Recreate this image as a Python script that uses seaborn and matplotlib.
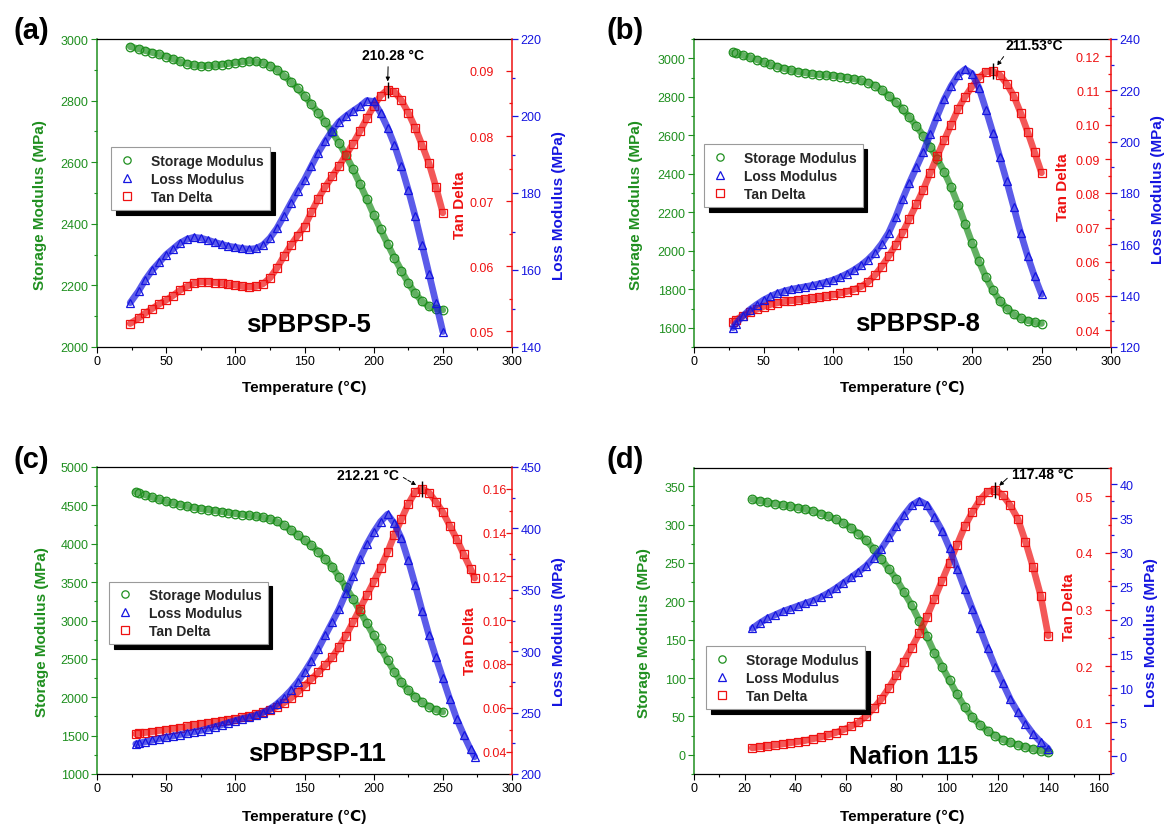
import matplotlib
matplotlib.use("Agg")
import numpy as np
import matplotlib.pyplot as plt
import seaborn as sns
from matplotlib.ticker import AutoMinorLocator

sns.set_style("ticks")
plt.rcParams['font.family'] = ['Liberation Sans', 'DejaVu Sans']

GREEN = '#1f8f1f'
RED = '#ee1111'
BLUE = '#1515e0'

# ---------------- data: (a) sPBPSP-5 ----------------
T_A = [24, 30, 35, 40, 45, 50, 55, 60, 65, 70, 75, 80, 85, 90, 95, 100, 105, 110, 115, 120,
       125, 130, 135, 140, 145, 150, 155, 160, 165, 170, 175, 180, 185, 190, 195, 200, 205,
       210, 215, 220, 225, 230, 235, 240, 245, 250]
SM_A = [2975, 2968, 2962, 2956, 2950, 2943, 2935, 2927, 2920, 2915, 2913, 2913, 2914, 2917,
        2920, 2923, 2926, 2928, 2927, 2922, 2913, 2900, 2882, 2862, 2840, 2815, 2788, 2760,
        2730, 2698, 2663, 2622, 2578, 2530, 2481, 2430, 2382, 2335, 2290, 2248, 2208, 2174,
        2148, 2132, 2123, 2120]
LM_A = [151.5, 154.5, 157.5, 160, 162, 164, 165.5, 167, 168, 168.5, 168.3, 167.8, 167.2, 166.7,
        166.2, 165.9, 165.6, 165.4, 165.6, 166.5, 168.3, 170.8, 174, 177.3, 180.5, 183.5, 187,
        190.5, 193.5, 196.2, 198.5, 200, 201.3, 202.5, 204, 203.8, 200.8, 197, 192.5, 187,
        180.8, 174, 166.5, 159, 151.5, 144]
TD_A = [0.0512, 0.0520, 0.0528, 0.0535, 0.0542, 0.0548, 0.0555, 0.0563, 0.0569, 0.0574, 0.0576,
        0.0576, 0.0575, 0.0574, 0.0572, 0.0571, 0.0569, 0.0568, 0.0569, 0.0573, 0.0582, 0.0597,
        0.0615, 0.0632, 0.0647, 0.0661, 0.0683, 0.0704, 0.0722, 0.0738, 0.0754, 0.0771, 0.0788,
        0.0807, 0.0827, 0.0846, 0.0862, 0.0871, 0.0868, 0.0855, 0.0836, 0.0813, 0.0786, 0.0758,
        0.0722, 0.0682]

# ---------------- data: (b) sPBPSP-8 ----------------
T_B = [28, 30, 35, 40, 45, 50, 55, 60, 65, 70, 75, 80, 85, 90, 95, 100, 105, 110, 115, 120,
       125, 130, 135, 140, 145, 150, 155, 160, 165, 170, 175, 180, 185, 190, 195, 200, 205,
       210, 215, 220, 225, 230, 235, 240, 245, 250]
SM_B = [3030, 3026, 3016, 3005, 2993, 2980, 2968, 2956, 2946, 2937, 2930,
        2924, 2919, 2915, 2912, 2909, 2905, 2900, 2893, 2885, 2874,
        2858, 2835, 2806, 2772, 2735, 2693, 2647, 2597, 2540, 2478,
        2410, 2330, 2240, 2140, 2040, 1945, 1862, 1795, 1740, 1700,
        1671, 1650, 1637, 1628, 1622]
LM_B = [127.5, 129, 132, 134.5, 136.5, 138.3, 139.7, 140.9, 141.8, 142.5, 143,
        143.5, 144, 144.6, 145.3, 146.1, 147.2, 148.5, 150, 151.8, 154,
        156.7, 160.2, 164.5, 170.5, 177.5, 184, 190, 196, 203, 210,
        216.5, 221.7, 226, 228.2, 226.5, 221, 212.5, 203.5, 194, 184.5,
        174.5, 164.5, 155.5, 147.5, 140.5]
TD_B = [0.0425, 0.0430, 0.0442, 0.0452, 0.0461, 0.0469, 0.0475, 0.0480, 0.0484, 0.0486, 0.0488,
        0.0490, 0.0493, 0.0496, 0.0499, 0.0503, 0.0508, 0.0513, 0.0519, 0.0527, 0.0540,
        0.0560, 0.0586, 0.0616, 0.0648, 0.0684, 0.0726, 0.0768, 0.0811, 0.0860, 0.0909,
        0.0955, 0.1001, 0.1046, 0.1082, 0.1112, 0.1138, 0.1155, 0.1157, 0.1146, 0.1120,
        0.1085, 0.1035, 0.0980, 0.0920, 0.0860]

# ---------------- data: (c) sPBPSP-11 ----------------
T_C_SM = [28, 30, 35, 40, 45, 50, 55, 60, 65, 70, 75, 80, 85, 90, 95, 100, 105, 110, 115, 120,
          125, 130, 135, 140, 145, 150, 155, 160, 165, 170, 175, 180, 185, 190, 195, 200, 205,
          210, 215, 220, 225, 230, 235, 240, 245, 250]
SM_C = [4675, 4665, 4635, 4605, 4578, 4552, 4530, 4508, 4488, 4470, 4455,
        4442, 4430, 4418, 4405, 4392, 4381, 4370, 4358, 4343, 4322,
        4290, 4243, 4180, 4115, 4050, 3978, 3895, 3802, 3700, 3565,
        3430, 3285, 3125, 2965, 2805, 2645, 2485, 2330, 2195, 2090,
        2005, 1935, 1878, 1836, 1808]
T_C = [28, 30, 35, 40, 45, 50, 55, 60, 65, 70, 75, 80, 85, 90, 95, 100, 105, 110, 115, 120,
       125, 130, 135, 140, 145, 150, 155, 160, 165, 170, 175, 180, 185, 190, 195, 200, 205,
       210, 215, 220, 225, 230, 235, 240, 245, 250, 255, 260, 265, 270, 273]
LM_C = [224.5, 225, 226.3, 227.5, 228.8, 230, 231, 232.1, 233.2, 234.3, 235.4,
        236.8, 238.4, 240, 241.8, 243.5, 245, 246.3, 247.8, 250, 253,
        257, 262.2, 268, 274.8, 283, 292, 302, 312.8, 323.5, 334.5,
        347.5, 361.5, 375.3, 387, 397, 405.5, 411.5, 404, 392, 374,
        354, 333, 313, 295, 278, 261, 245, 232, 220, 214]
TD_C = [0.0481, 0.0483, 0.0487, 0.0491, 0.0496, 0.0500, 0.0505, 0.0510, 0.0515, 0.0521, 0.0526,
        0.0531, 0.0535, 0.0540, 0.0545, 0.0550, 0.0556, 0.0563, 0.0571, 0.0580, 0.0591,
        0.0605, 0.0622, 0.0643, 0.0670, 0.0701, 0.0731, 0.0762, 0.0795, 0.0830, 0.0878,
        0.0930, 0.0990, 0.1052, 0.1113, 0.1174, 0.1240, 0.1310, 0.1390, 0.1460, 0.1530,
        0.1585, 0.1600, 0.1582, 0.1540, 0.1493, 0.1432, 0.1370, 0.1302, 0.1235, 0.1192]

# ---------------- data: (d) Nafion 115 ----------------
T_D = [23, 26, 29, 32, 35, 38, 41, 44, 47, 50, 53, 56, 59, 62, 65, 68, 71, 74, 77, 80,
       83, 86, 89, 92, 95, 98, 101, 104, 107, 110, 113, 116, 119, 122, 125, 128, 131, 134, 137, 140]
SM_D = [333, 331, 329, 327, 325.5, 324, 322, 320, 317.5, 314.5,
        311, 307, 302, 296, 288, 279.5, 268.5, 255.5, 242, 229,
        212, 195, 175, 154.5, 133, 115, 97, 78.5, 62, 48.7,
        39, 31, 24.5, 19.5, 16, 12.8, 10, 7.3, 5, 3]
LM_D = [18.8, 19.6, 20.3, 20.8, 21.3, 21.7, 22.1, 22.5, 22.9, 23.4,
        24, 24.7, 25.5, 26.3, 27.1, 28, 29.2, 30.5, 32.2, 33.9,
        35.5, 36.9, 37.6, 37, 35.2, 33.2, 30.6, 27.6, 24.6, 21.7,
        18.8, 15.9, 13.2, 10.8, 8.4, 6.5, 4.8, 3.3, 2.1, 1.1]
TD_D = [0.056, 0.058, 0.059, 0.061, 0.063, 0.065, 0.067, 0.069, 0.072, 0.075,
        0.079, 0.083, 0.088, 0.094, 0.101, 0.112, 0.126, 0.142, 0.162, 0.184,
        0.208, 0.233, 0.258, 0.287, 0.319, 0.351, 0.383, 0.415, 0.447, 0.472,
        0.494, 0.508, 0.512, 0.502, 0.484, 0.460, 0.420, 0.375, 0.325, 0.254]

# ---------------- tick values / labels ----------------
X_TICKS_ABC = [0, 50, 100, 150, 200, 250, 300]
X_TICKS_D = [0, 20, 40, 60, 80, 100, 120, 140, 160]
SM_TICKS_A = [2000, 2200, 2400, 2600, 2800, 3000]
SM_TICKS_B = [1600, 1800, 2000, 2200, 2400, 2600, 2800, 3000]
SM_TICKS_C = [1000, 1500, 2000, 2500, 3000, 3500, 4000, 4500, 5000]
SM_TICKS_D = [0, 50, 100, 150, 200, 250, 300, 350]
TD_TICKS_A = [0.05, 0.06, 0.07, 0.08, 0.09]
TD_LABELS_A = ['0.05', '0.06', '0.07', '0.08', '0.09']
TD_TICKS_B = [0.04, 0.05, 0.06, 0.07, 0.08, 0.09, 0.10, 0.11, 0.12]
TD_LABELS_B = ['0.04', '0.05', '0.06', '0.07', '0.08', '0.09', '0.10', '0.11', '0.12']
TD_TICKS_C = [0.04, 0.06, 0.08, 0.10, 0.12, 0.14, 0.16]
TD_LABELS_C = ['0.04', '0.06', '0.08', '0.10', '0.12', '0.14', '0.16']
TD_TICKS_D = [0.1, 0.2, 0.3, 0.4, 0.5]
TD_LABELS_D = ['0.1', '0.2', '0.3', '0.4', '0.5']
LM_TICKS_A = [140, 160, 180, 200, 220]
LM_TICKS_B = [120, 140, 160, 180, 200, 220, 240]
LM_TICKS_C = [200, 250, 300, 350, 400, 450]
LM_TICKS_D = [0, 5, 10, 15, 20, 25, 30, 35, 40]

PANEL_TAGS = ['(a)', '(b)', '(c)', '(d)']
SAMPLES = ['sPBPSP-5', 'sPBPSP-8', 'sPBPSP-11', 'Nafion 115']
PEAK_LABELS = ['210.28 °C', '211.53°C', '212.21 °C', '117.48 °C']
SERIES_NAMES = ['Storage Modulus', 'Loss Modulus', 'Tan Delta']

W, H = 1167, 829
fig = plt.figure(figsize=(W / 100, H / 100), dpi=100)


def rect(l, r, t, b):
    return [l / W, 1 - b / H, (r - l) / W, (b - t) / H]


panels = [
    dict(rect=rect(97, 512, 40, 348), Tsm=T_A, sm=SM_A, Tlm=T_A, lm=LM_A, Ttd=T_A, td=TD_A,
         xlim=(0, 300), xticks=X_TICKS_ABC, smlim=(2000, 3000), smticks=SM_TICKS_A,
         tdlim=(0.0476, 0.0949), tdticks=TD_TICKS_A, tdlabels=TD_LABELS_A,
         lmlim=(140, 220), lmticks=LM_TICKS_A,
         smlab=(-0.137, 0.464), tdlab=(0.875, 0.464), lmlab=(1.113, 0.464), xlab=(0.5, -0.13),
         leg=(0.034, 0.648), sample=(0.51, 0.075), tdpad=13,
         peak_off=(4.3, 25), relpos=(0.415, 0.0), shrinkB=6, ls='-', tag=(31, 31)),
    dict(rect=rect(694, 1111, 40, 348), Tsm=T_B, sm=SM_B, Tlm=T_B, lm=LM_B, Ttd=T_B, td=TD_B,
         xlim=(0, 300), xticks=X_TICKS_ABC, smlim=(1500, 3100), smticks=SM_TICKS_B,
         tdlim=(0.0351, 0.1251), tdticks=TD_TICKS_B, tdlabels=TD_LABELS_B,
         lmlim=(120, 240), lmticks=LM_TICKS_B,
         smlab=(-0.138, 0.464), tdlab=(0.886, 0.523), lmlab=(1.113, 0.515), xlab=(0.5, -0.13),
         leg=(0.024, 0.658), sample=(0.536, 0.078), tdpad=8,
         peak_off=(29.5, 18.7), relpos=(0.05, 0.1), shrinkB=5, ls='--', tag=(625, 31)),
    dict(rect=rect(97, 512, 468, 775), Tsm=T_C_SM, sm=SM_C, Tlm=T_C, lm=LM_C, Ttd=T_C, td=TD_C,
         xlim=(0, 300), xticks=X_TICKS_ABC, smlim=(1000, 5000), smticks=SM_TICKS_C,
         tdlim=(0.0298, 0.1699), tdticks=TD_TICKS_C, tdlabels=TD_LABELS_C,
         lmlim=(200, 450), lmticks=LM_TICKS_C,
         smlab=(-0.133, 0.466), tdlab=(0.898, 0.437), lmlab=(1.113, 0.466), xlab=(0.5, -0.137),
         leg=(0.029, 0.627), sample=(0.53, 0.067), tdpad=4,
         peak_off=(-39, 10), relpos=(1.0, 0.5), shrinkB=5, ls='--', tag=(31, 460)),
    dict(rect=rect(694, 1111, 469, 775), Tsm=T_D, sm=SM_D, Tlm=T_D, lm=LM_D, Ttd=T_D, td=TD_D,
         xlim=(0, 164.8), xticks=X_TICKS_D, smlim=(-25.2, 373.9), smticks=SM_TICKS_D,
         tdlim=(0.01, 0.55), tdticks=TD_TICKS_D, tdlabels=TD_LABELS_D,
         lmlim=(-2.6, 42.4), lmticks=LM_TICKS_D,
         smlab=(-0.12, 0.464), tdlab=(0.90, 0.549), lmlab=(1.096, 0.466), xlab=(0.5, -0.137),
         leg=(0.029, 0.417), sample=(0.527, 0.06), tdpad=13,
         peak_off=(34, 11), relpos=(0.0, 0.5), shrinkB=4, ls='-', tag=(625, 460)),
]

MS = 6.2


def draw_series(ax, x, y, color, marker, label):
    # dense band through the measured points, then the hollow markers on top
    sns.lineplot(x=x, y=y, ax=ax, color=color, linewidth=4.8, alpha=0.7,
                 legend=False, sort=False, errorbar=None)
    sns.lineplot(x=x, y=y, ax=ax, color=color, marker=marker, linestyle='none',
                 markersize=MS, markerfacecolor='none', markeredgecolor=color,
                 markeredgewidth=0.9, label=label, legend=False, sort=False, errorbar=None)
    return ax.get_lines()[-1]


for k, p in enumerate(panels):
    ax = fig.add_axes(p['rect'])
    axr = ax.twinx()
    axb = ax.twinx()

    h_sm = draw_series(ax, p['Tsm'], p['sm'], GREEN, 'o', SERIES_NAMES[0])
    h_td = draw_series(axr, p['Ttd'], p['td'], RED, 's', SERIES_NAMES[2])
    h_lm = draw_series(axb, p['Tlm'], p['lm'], BLUE, '^', SERIES_NAMES[1])

    # x axis
    ax.set_xlim(p['xlim'])
    ax.set_xticks(p['xticks'])
    ax.set_xticklabels([str(t) for t in p['xticks']])
    ax.xaxis.set_minor_locator(AutoMinorLocator(2))
    ax.tick_params(axis='x', which='major', direction='out', length=4, width=0.8,
                   colors='black', labelsize=9, pad=2)
    ax.tick_params(axis='x', which='minor', direction='out', length=2.5, width=0.8, colors='black')
    ax.set_xlabel('Temperature (℃)', fontsize=11, fontweight='bold', color='black', va='center')
    ax.xaxis.set_label_coords(*p['xlab'])

    # storage modulus axis (left)
    ax.set_ylim(p['smlim'])
    ax.set_yticks(p['smticks'])
    ax.set_yticklabels([str(t) for t in p['smticks']])
    ax.yaxis.set_minor_locator(AutoMinorLocator(2))
    ax.tick_params(axis='y', which='major', direction='out', length=4, width=0.8,
                   colors=GREEN, labelsize=9, pad=2)
    ax.tick_params(axis='y', which='minor', direction='out', length=2.5, width=0.8, colors=GREEN)
    ax.set_ylabel('Storage Modulus (MPa)', fontsize=11, fontweight='bold', color=GREEN, va='center')
    ax.yaxis.set_label_coords(*p['smlab'])
    ax.spines['left'].set_color(GREEN)
    ax.spines['left'].set_linewidth(1.1)
    ax.spines['right'].set_visible(False)
    for s in ('top', 'bottom'):
        ax.spines[s].set_color('black')
        ax.spines[s].set_linewidth(0.9)

    # tan delta axis (right spine, labels inside)
    axr.set_ylim(p['tdlim'])
    axr.set_yticks(p['tdticks'])
    axr.set_yticklabels(p['tdlabels'])
    axr.yaxis.set_minor_locator(AutoMinorLocator(2))
    axr.tick_params(axis='y', which='major', direction='in', length=4.5, width=0.9,
                    colors=RED, labelsize=9, pad=-p['tdpad'])
    axr.tick_params(axis='y', which='minor', direction='in', length=2.5, width=0.9, colors=RED)
    for lbl in axr.get_yticklabels():
        lbl.set_ha('right')
    axr.set_ylabel('Tan Delta', fontsize=11, fontweight='bold', color=RED, va='center')
    axr.yaxis.set_label_coords(*p['tdlab'])
    for s in ('top', 'bottom', 'left'):
        axr.spines[s].set_visible(False)
    axr.spines['right'].set_color(RED)
    axr.spines['right'].set_linewidth(1.1)

    # loss modulus axis (same right spine, labels outside)
    axb.set_ylim(p['lmlim'])
    axb.set_yticks(p['lmticks'])
    axb.set_yticklabels([str(t) for t in p['lmticks']])
    axb.yaxis.set_minor_locator(AutoMinorLocator(2))
    axb.tick_params(axis='y', which='major', direction='out', length=4, width=0.9,
                    colors=BLUE, labelsize=9, pad=2)
    axb.tick_params(axis='y', which='minor', direction='out', length=2.5, width=0.9, colors=BLUE)
    axb.set_ylabel('Loss Modulus (MPa)', fontsize=11, fontweight='bold', color=BLUE, va='center')
    axb.yaxis.set_label_coords(*p['lmlab'])
    for s in axb.spines.values():
        s.set_visible(False)

    # peak annotation (from tan delta data)
    i = int(np.argmax(p['td']))
    tp, vp = p['Ttd'][i], p['td'][i]
    axr.plot([tp], [vp], marker='|', markersize=11, markeredgewidth=1.0, color='black',
             linestyle='none', zorder=5)
    axr.annotate(PEAK_LABELS[k], xy=(tp, vp), xytext=p['peak_off'], textcoords='offset points',
                 ha='center', va='center', fontsize=10, fontweight='bold', color='black',
                 arrowprops=dict(arrowstyle='-|>', color='black', lw=0.7, linestyle=p['ls'],
                                 shrinkA=1, shrinkB=p['shrinkB'], mutation_scale=6,
                                 relpos=p['relpos']), zorder=6)

    # sample name
    axb.text(p['sample'][0], p['sample'][1], SAMPLES[k], transform=ax.transAxes,
             ha='center', va='center', fontsize=18.5, fontweight='bold', color='black', zorder=7)

    # legend
    leg = axb.legend([h_sm, h_lm, h_td], SERIES_NAMES, loc='upper left', bbox_to_anchor=p['leg'],
                     bbox_transform=ax.transAxes, frameon=True, fancybox=False,
                     shadow={'ox': 3.5, 'oy': -3.5, 'facecolor': 'black',
                             'edgecolor': 'black', 'alpha': 1},
                     prop=dict(weight='bold', size=10), borderpad=0.45, labelspacing=0.3,
                     handlelength=1.4, handletextpad=1.0, borderaxespad=0,
                     markerscale=0.85, numpoints=1, framealpha=1)
    leg.get_frame().set_edgecolor('#9a9a9a')
    leg.get_frame().set_linewidth(0.8)
    leg.set_zorder(10)

    fig.text(p['tag'][0] / W, 1 - p['tag'][1] / H, PANEL_TAGS[k], ha='center', va='center',
             fontsize=21, fontweight='bold', color='black')

fig.savefig('out.png', dpi=100, facecolor='white')
